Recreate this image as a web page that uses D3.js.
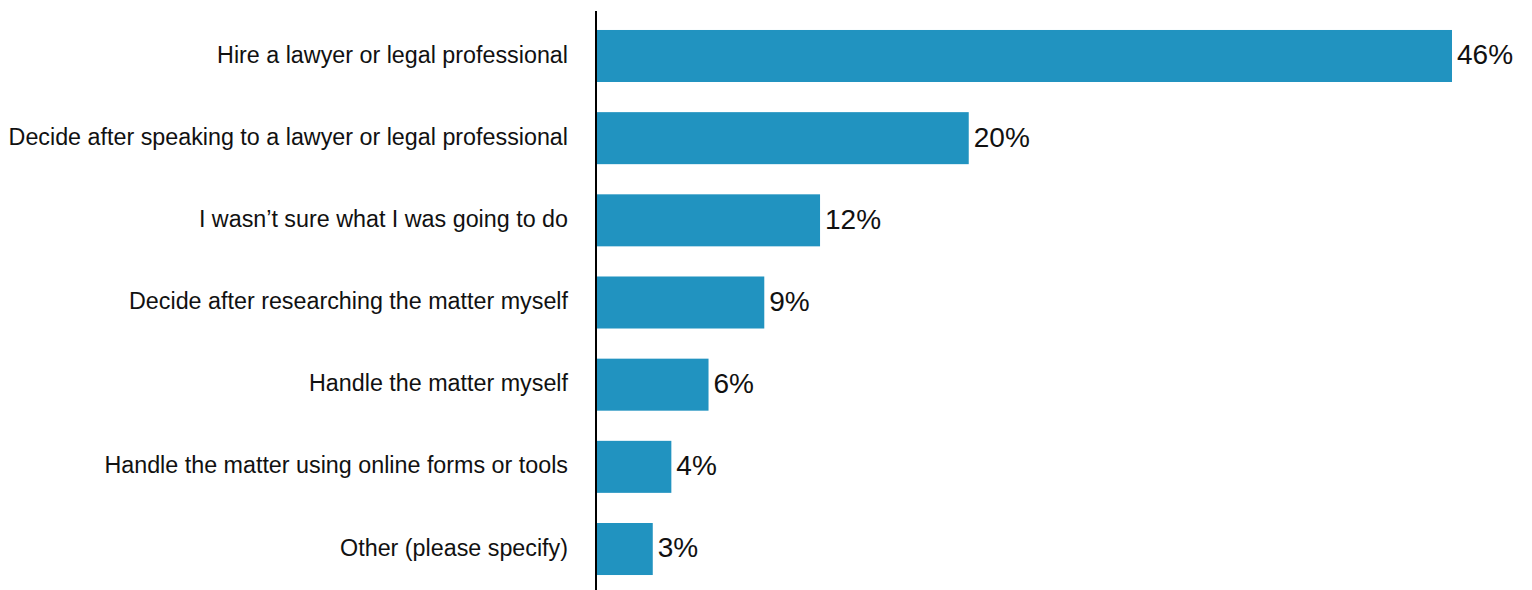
<!DOCTYPE html>
<html>
<head>
<meta charset="utf-8">
<script src="https://cdn.jsdelivr.net/npm/d3@7"></script>
<style>
  html, body { margin: 0; padding: 0; background: #fff; }
  svg { display: block; }
</style>
</head>
<body>
<svg id="chart" width="1532" height="590"></svg>
<script>
const categories = [
  "Hire a lawyer or legal professional",
  "Decide after speaking to a lawyer or legal professional",
  "I wasn\u2019t sure what I was going to do",
  "Decide after researching the matter myself",
  "Handle the matter myself",
  "Handle the matter using online forms or tools",
  "Other (please specify)"
];
const values = [46, 20, 12, 9, 6, 4, 3];
const valueLabels = ["46%", "20%", "12%", "9%", "6%", "4%", "3%"];

const svg = d3.select("#chart");
const x0 = 597;
const x = d3.scaleLinear().domain([0, 46]).range([x0, 1452]);
const y = d3.scaleBand().domain(categories).range([14.9, 590.1]).paddingInner(0.367).paddingOuter(0.1835);

const font = "'Liberation Sans', Arial, Helvetica, sans-serif";

svg.selectAll("rect.bar").data(values).join("rect")
  .attr("class", "bar")
  .attr("x", x0)
  .attr("y", (d, i) => y(categories[i]))
  .attr("width", d => x(d) - x0)
  .attr("height", y.bandwidth())
  .attr("fill", "#2193c0");

svg.selectAll("text.val").data(values).join("text")
  .attr("class", "val")
  .attr("x", d => x(d) + 5)
  .attr("y", (d, i) => y(categories[i]) + y.bandwidth() / 2)
  .attr("dy", "0.3em")
  .attr("font-family", font)
  .attr("font-size", 28)
  .attr("fill", "#111")
  .text((d, i) => valueLabels[i]);

const yAxis = d3.axisLeft(y).tickSize(0).tickPadding(28);
const g = svg.append("g").attr("transform", `translate(596,0)`).call(yAxis);
g.select(".domain").remove();
g.selectAll("text")
  .attr("font-family", font)
  .attr("font-size", 23.3)
  .attr("fill", "#111")
  .attr("dy", "0.28em");

svg.append("line")
  .attr("x1", 596).attr("x2", 596)
  .attr("y1", 11).attr("y2", 590)
  .attr("stroke", "#000").attr("stroke-width", 2);
</script>
</body>
</html>
